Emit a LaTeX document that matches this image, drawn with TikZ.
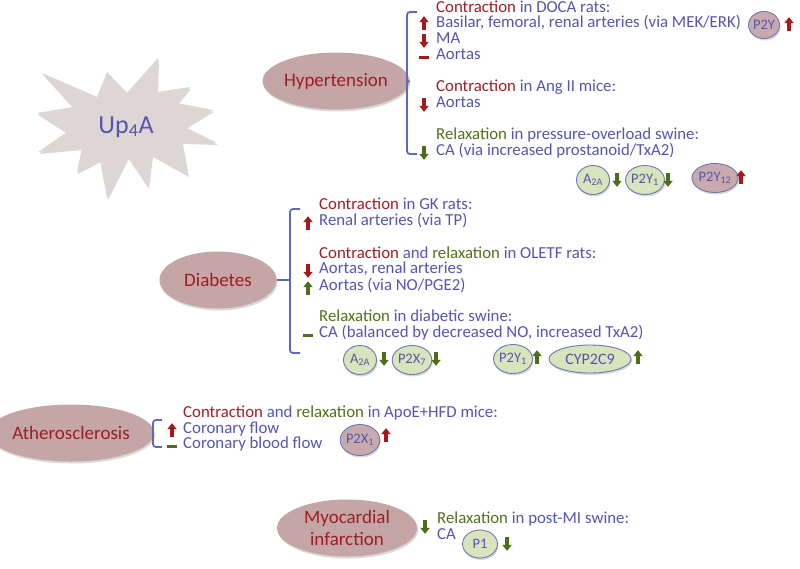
\documentclass[tikz,border=0pt]{standalone}
\usepackage{fontspec}
\setmainfont{Carlito}
\usetikzlibrary{shapes.geometric,shadows}
\definecolor{txtblue}{RGB}{85,85,175}
\definecolor{txtred}{RGB}{160,28,38}
\definecolor{txtgreen}{RGB}{80,112,30}
\definecolor{arrred}{RGB}{165,25,25}
\definecolor{arrgreen}{RGB}{75,110,25}
\definecolor{pinkfill}{RGB}{196,166,166}
\definecolor{starfill}{RGB}{222,213,213}
\definecolor{cgreen}{RGB}{216,228,188}
\definecolor{cpink}{RGB}{200,170,174}
\definecolor{cborder}{RGB}{110,120,180}
\definecolor{brk}{RGB}{95,105,180}
\newcommand{\tred}[1]{\textcolor{txtred}{#1}}
\newcommand{\tblu}[1]{\textcolor{txtblue}{#1}}
\newcommand{\tgrn}[1]{\textcolor{txtgreen}{#1}}
\tikzset{
  x=1pt, y=-1pt,
  shad/.style={drop shadow={opacity=0.3, shadow xshift=1pt, shadow yshift=-2pt}},
  bigell/.style={ellipse, fill=pinkfill, text=txtred, inner sep=0pt,
    font=\fontsize{19}{22}\selectfont, minimum height=57pt, shad},
  line/.style={anchor=mid west, inner sep=0pt, text=txtblue, text height=10pt, text depth=3pt,
    font=\fontsize{16.8}{18}\selectfont},
  circ/.style={ellipse, draw=cborder, line width=0.9pt, inner sep=0pt, text=txtblue,
    font=\fontsize{14.5}{16}\selectfont, minimum width=33pt, minimum height=29pt, shad},
  gcirc/.style={circ, fill=cgreen},
  pcirc/.style={circ, fill=cpink},
  brace/.style={draw=brk, line width=1.8pt, rounded corners=3pt},
  uparr/.pic={\fill (0,-6.8) -- (4.8,-0.8) -- (1.8,-0.8) -- (1.8,6.8) -- (-1.8,6.8) -- (-1.8,-0.8) -- (-4.8,-0.8) -- cycle;},
  dnarr/.pic={\fill (0,6.8) -- (4.8,0.8) -- (1.8,0.8) -- (1.8,-6.8) -- (-1.8,-6.8) -- (-1.8,0.8) -- (-4.8,0.8) -- cycle;},
  dsh/.pic={\fill (-4.8,-1.5) rectangle (4.8,1.5);},
}
\begin{document}
\begin{tikzpicture}
\useasboundingbox (0,0) rectangle (800,568);
% starburst
\fill[starfill, shad] (42,73) -- (97,97) -- (107,72) -- (127,93) -- (158,58) -- (157,92) -- (190,87)
  -- (177,103) -- (213,110) -- (185,127) -- (217,143) -- (182,142) -- (188,175) -- (152,155)
  -- (148,187) -- (128,157) -- (107,198) -- (100,160) -- (77,172) -- (82,148) -- (38,152)
  -- (67,132) -- (37,113) -- (73,107) -- cycle;
\node[text=txtblue, font=\fontsize{26}{30}\selectfont] (up4a) at (126,127) {Up\textsubscript{4}A};

% ---------- Hypertension
\node[bigell, minimum width=117pt] (hyp) at (336,81) {Hypertension};
\coordinate (hb) at (407,82);
\draw[brace] (417,12) -- (407,12) -- (407,154) -- (417,154);
\draw[brace] (hyp.east) -- (hb);
\node[line] (h1) at (436,10) {\tred{Contraction} in DOCA rats:};
\node[line] (h2) at (436,25) {Basilar, femoral, renal arteries (via MEK/ERK)};
\node[line] (h3) at (436,41) {MA};
\node[line] (h4) at (436,57) {Aortas};
\node[line] (h5) at (436,89) {\tred{Contraction} in Ang II mice:};
\node[line] (h6) at (436,105) {Aortas};
\node[line] (h7) at (436,137) {\tgrn{Relaxation} in pressure-overload swine:};
\node[line] (h8) at (436,153) {CA (via increased prostanoid/TxA2)};
\pic[color=arrred] at (424,23) {uparr};
\pic[color=arrred] at (424,41) {dnarr};
\pic[color=arrred] at (424,57) {dsh};
\pic[color=arrred] at (424,105) {dnarr};
\pic[color=arrgreen] at (424,153) {dnarr};
\node[pcirc, minimum width=30pt, minimum height=27pt] (p2y) at (764,25) {P2Y};
\pic[color=arrred] at (789,24) {uparr};
\node[gcirc] (a2a) at (593,180) {A\textsubscript{2A}};
\pic[color=arrgreen] at (617,180) {dnarr};
\node[gcirc] (p2y1) at (645,180) {P2Y\textsubscript{1}};
\pic[color=arrgreen] at (668,180) {dnarr};
\node[pcirc] (p2y12) at (715,178) {P2Y\textsubscript{12}};
\pic[color=arrred] at (741,177) {uparr};

% ---------- Diabetes
\node[bigell, minimum width=117pt] (dia) at (218,280) {Diabetes};
\coordinate (db) at (290,280);
\draw[brace] (300,209) -- (290,209) -- (290,353) -- (300,353);
\draw[brace] (dia.east) -- (db);
\node[line] (d1) at (319,207) {\tred{Contraction} in GK rats:};
\node[line] (d2) at (319,223) {Renal arteries (via TP)};
\node[line] (d3) at (319,256) {\tred{Contraction} and \tgrn{relaxation} in OLETF rats:};
\node[line] (d4) at (319,271) {Aortas, renal arteries};
\node[line] (d5) at (319,288) {Aortas (via NO/PGE2)};
\node[line] (d6) at (319,319) {\tgrn{Relaxation} in diabetic swine:};
\node[line] (d7) at (319,335) {CA (balanced by decreased NO, increased TxA2)};
\pic[color=arrred] at (308,223) {uparr};
\pic[color=arrred] at (308,271) {dnarr};
\pic[color=arrgreen] at (308,288) {uparr};
\pic[color=arrgreen] at (308,335) {dsh};
\node[gcirc] (da2a) at (360,360) {A\textsubscript{2A}};
\pic[color=arrgreen] at (384,359) {dnarr};
\node[gcirc] (dp2x7) at (412,360) {P2X\textsubscript{7}};
\pic[color=arrgreen] at (436,359) {dnarr};
\node[gcirc] (dp2y1) at (513,359) {P2Y\textsubscript{1}};
\pic[color=arrgreen] at (537,357) {uparr};
\node[gcirc, minimum width=82pt, minimum height=28pt, font=\fontsize{16}{18}\selectfont] (cyp) at (590,359) {CYP2C9};
\pic[color=arrgreen] at (638,357) {uparr};

% ---------- Atherosclerosis
\node[bigell, minimum width=135pt] (ath) at (71,433) {Atherosclerosis};
\coordinate (ab) at (153,433);
\draw[brace] (162,420) -- (153,420) -- (153,447) -- (162,447);
\draw[brace] (ath.east) -- (ab);
\node[line] (a1) at (183,415) {\tred{Contraction} and \tgrn{relaxation} in ApoE+HFD mice:};
\node[line] (a2) at (183,431) {Coronary flow};
\node[line] (a3) at (183,446) {Coronary blood flow};
\pic[color=arrred] at (172,430) {uparr};
\pic[color=arrgreen] at (172,446) {dsh};
\node[pcirc, minimum width=37pt, minimum height=31pt] (p2x1) at (360,440) {P2X\textsubscript{1}};
\pic[color=arrred] at (386,435) {uparr};

% ---------- Myocardial infarction
\node[bigell, minimum width=140pt, align=center] (mi) at (347,528) {Myocardial\\infarction};
\pic[color=arrgreen] at (425,527) {dnarr};
\node[line] (m1) at (437,521) {\tgrn{Relaxation} in post-MI swine:};
\node[line] (m2) at (437,537) {CA};
\node[gcirc, minimum width=35pt, minimum height=28pt] (p1) at (480,544) {P1};
\pic[color=arrgreen] at (507,544) {dnarr};
\end{tikzpicture}
\end{document}
